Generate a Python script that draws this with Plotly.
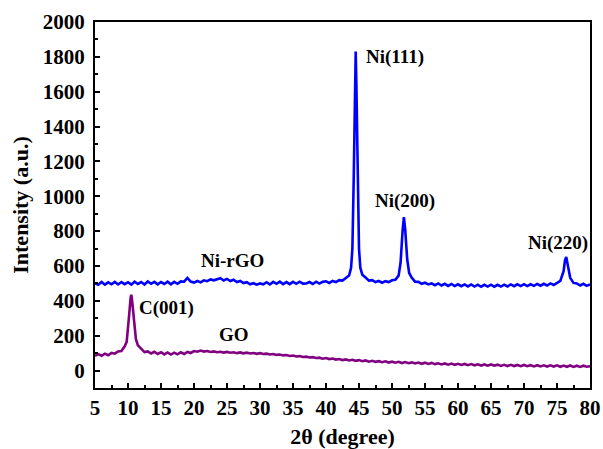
import plotly.graph_objects as go

# Ni-rGO (blue) pattern
ni_x = [5, 5.5, 6, 6.5, 7, 7.5, 8, 8.5, 9, 9.5, 10, 10.5, 11, 11.5, 12, 12.5, 13, 13.5, 14, 14.5,
        15, 15.5, 16, 16.5, 17, 17.5, 18, 18.5, 19, 19.5, 20, 20.5, 21, 21.5, 22, 22.5, 23, 23.5, 24, 24.5,
        25, 25.5, 26, 26.5, 27, 27.5, 28, 28.5, 29, 29.5, 30, 30.5, 31, 31.5, 32, 32.5, 33, 33.5, 34, 34.5,
        35, 35.5, 36, 36.5, 37, 37.5, 38, 38.5, 39, 39.5, 40, 40.5, 41, 41.5, 42, 42.5, 43, 43.5, 43.8, 44.0,
        44.2, 44.4, 44.5, 44.6, 44.8, 45.0, 45.2, 45.5, 46, 46.5, 47, 47.5, 48, 48.5, 49, 49.5, 50, 50.5,
        51, 51.3, 51.6, 51.8, 52.0, 52.3, 52.6, 53, 53.5, 54, 54.5, 55, 55.5, 56, 56.5, 57, 57.5, 58, 58.5,
        59, 59.5, 60, 60.5, 61, 61.5, 62, 62.5, 63, 63.5, 64, 64.5, 65, 65.5, 66, 66.5, 67, 67.5, 68, 68.5,
        69, 69.5, 70, 70.5, 71, 71.5, 72, 72.5, 73, 73.5, 74, 74.5, 75, 75.5, 76, 76.2, 76.4, 76.6, 76.8,
        77, 77.5, 78, 78.5, 79, 79.5, 80]
ni_y = [500, 492, 508, 493, 506, 495, 509, 494, 508, 496, 507, 493, 510, 497, 508, 494, 511, 498, 509, 495,
        508, 497, 510, 495, 509, 498, 512, 510, 532, 511, 505, 514, 506, 518, 513, 523, 518, 525, 530, 517,
        526, 514, 521, 508, 514, 502, 507, 495, 501, 493, 500, 495, 507, 494, 509, 498, 510, 496, 508, 496,
        509, 498, 510, 499, 500, 508, 497, 510, 499, 509, 512, 503, 514, 508, 519, 516, 532, 545, 590, 700,
        1100, 1600, 1830, 1650, 1100, 700, 590, 550, 534, 516, 519, 508, 514, 504, 513, 508, 518, 521,
        545, 620, 800, 880, 810, 640, 560, 532, 510, 509, 498, 504, 494, 500, 490, 500, 488, 498, 486,
        497, 485, 495, 484, 494, 483, 494, 482, 493, 481, 492, 482, 493, 481, 492, 482, 493, 483, 494, 484,
        495, 485, 496, 485, 495, 486, 497, 487, 498, 488, 500, 491, 504, 515, 570, 630, 652, 610, 560,
        532, 503, 500, 488, 498, 486, 495]

# GO (purple) pattern
go_x = [5, 5.5, 6, 6.5, 7, 7.5, 8, 8.5, 9, 9.5, 9.8, 10.0, 10.2, 10.4, 10.5, 10.6, 10.8, 11.0, 11.2, 11.5,
        12, 12.5, 13, 13.5, 14, 14.5, 15, 15.5, 16, 16.5, 17, 17.5, 18, 18.5, 19, 19.5, 20, 20.5, 21, 21.5,
        22, 22.5, 23, 23.5, 24, 24.5, 25, 25.5, 26, 26.5, 27, 27.5, 28, 28.5, 29, 29.5, 30, 30.5, 31, 31.5,
        32, 32.5, 33, 33.5, 34, 34.5, 35, 35.5, 36, 36.5, 37, 37.5, 38, 38.5, 39, 39.5, 40, 40.5, 41, 41.5,
        42, 42.5, 43, 43.5, 44, 44.5, 45, 45.5, 46, 46.5, 47, 47.5, 48, 48.5, 49, 49.5, 50, 50.5, 51, 51.5,
        52, 52.5, 53, 53.5, 54, 54.5, 55, 55.5, 56, 56.5, 57, 57.5, 58, 58.5, 59, 59.5, 60, 60.5, 61, 61.5,
        62, 62.5, 63, 63.5, 64, 64.5, 65, 65.5, 66, 66.5, 67, 67.5, 68, 68.5, 69, 69.5, 70, 70.5, 71, 71.5,
        72, 72.5, 73, 73.5, 74, 74.5, 75, 75.5, 76, 76.5, 77, 77.5, 78, 78.5, 79, 79.5, 80]
go_y = [84, 94, 85, 97, 88, 101, 97, 110, 112, 139, 165, 230, 330, 420, 435, 410, 320, 230, 180, 145,
        126, 106, 110, 98, 108, 95, 105, 93, 104, 92, 103, 93, 105, 95, 107, 101, 112, 108, 115, 109,
        112, 107, 110, 105, 108, 103, 107, 102, 105, 100, 104, 99, 103, 98, 101, 96, 100, 95, 97, 92,
        95, 90, 92, 87, 89, 84, 86, 81, 83, 78, 80, 75, 77, 72, 74, 68, 72, 66, 69, 63,
        66, 60, 64, 58, 62, 56, 60, 54, 58, 51, 56, 50, 54, 48, 53, 46, 51, 45, 50, 43,
        49, 42, 47, 41, 46, 39, 45, 38, 44, 37, 42, 35, 41, 34, 40, 33, 39, 32, 38, 31,
        37, 30, 36, 29, 35, 28, 35, 28, 34, 27, 33, 26, 33, 26, 32, 25, 32, 25, 31, 24,
        31, 24, 30, 23, 30, 23, 30, 22, 29, 22, 29, 21, 28, 21, 28, 22, 25]

# Peak labels
label_text = ["Ni(111)", "Ni(200)", "Ni(220)", "Ni-rGO", "C(001)", "GO"]
label_x = [50.5, 51.9, 75.2, 25.9, 15.8, 26.1]
label_y = [1800, 975, 730, 632, 360, 207]

x_ticks = list(range(5, 81, 5))
y_ticks = list(range(0, 2001, 200))

FONT = "Liberation Serif"

fig = go.Figure()
fig.add_trace(go.Scatter(x=go_x, y=go_y, mode="lines", line=dict(color="#800080", width=2.6),
                         showlegend=False, name="GO"))
fig.add_trace(go.Scatter(x=ni_x, y=ni_y, mode="lines", line=dict(color="#0000FF", width=2.6),
                         showlegend=False, name="Ni-rGO"))

for t, xx, yy in zip(label_text, label_x, label_y):
    fig.add_annotation(x=xx, y=yy, xref="x", yref="y", text="<b>%s</b>" % t, showarrow=False,
                       font=dict(family=FONT, size=19, color="black"))

axis_common = dict(showline=True, linecolor="black", linewidth=2, mirror=True, ticks="inside",
                   tickcolor="black", tickwidth=1.5, ticklen=5, showgrid=False, zeroline=False,
                   automargin=False,
                   tickfont=dict(family=FONT, size=21, color="black", weight="bold"))

fig.update_xaxes(range=[5, 80], tickvals=x_ticks, ticktext=[str(v) for v in x_ticks],
                 minor=dict(ticks="inside", ticklen=3, dtick=2.5, tick0=5, tickcolor="black", tickwidth=1.5),
                 title=dict(text="<b>2θ (degree)</b>", font=dict(family=FONT, size=22, color="black"), standoff=10),
                 **axis_common)
fig.update_yaxes(range=[-100, 2000], tickvals=y_ticks, ticktext=[str(v) for v in y_ticks],
                 ticklabelstandoff=4,
                 minor=dict(ticks="inside", ticklen=3, dtick=100, tick0=0, tickcolor="black", tickwidth=1.5),
                 title=dict(text="<b>Intensity (a.u.)</b>", font=dict(family=FONT, size=22, color="black"), standoff=8),
                 **axis_common)

fig.update_layout(width=603, height=449, margin=dict(l=95, r=13, t=22, b=61),
                  plot_bgcolor="white", paper_bgcolor="white")

# remove the page's default body margin so the 603x449 figure fills the window exactly
fig.write_html("out.html", config={"displayModeBar": False},
               post_script="document.body.style.margin='0px';")
